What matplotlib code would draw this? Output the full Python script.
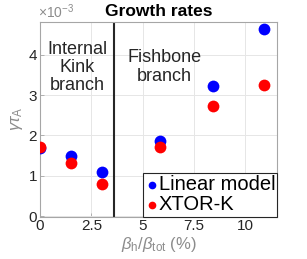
import numpy as np
import matplotlib.pyplot as plt

plt.rcParams['font.family'] = ['Liberation Sans', 'DejaVu Sans']
plt.rcParams['mathtext.fontset'] = 'custom'
plt.rcParams['mathtext.rm'] = 'Liberation Sans'
plt.rcParams['mathtext.it'] = 'Liberation Sans:italic'

# data (gamma*tau_A, in units of 1e-3)
beta_ratio = [0, 1.5, 3.0, 5.82, 8.4, 10.92]
linear_model = [1.70, 1.49, 1.10, 1.85, 3.23, 4.63]
xtor_k = [1.71, 1.31, 0.80, 1.71, 2.73, 3.26]
x_split = 3.58

x_ticks = [0, 2.5, 5, 7.5, 10]
x_ticklabels = ['0', '2.5', '5', '7.5', '10']
y_ticks = [0, 1, 2, 3, 4]

fig = plt.figure(figsize=(3.07, 2.59), dpi=100)
ax = fig.add_axes([40/307, 1 - 216.5/259, 237.3/307, 194.8/259])

ax.scatter(beta_ratio, linear_model, s=72, color='#0000ff', label='Linear model', zorder=3, linewidths=0)
ax.scatter(beta_ratio, xtor_k, s=72, color='#ff0000', label='XTOR-K', zorder=4, linewidths=0)
ax.axvline(x_split, color='#262626', lw=1.5, zorder=2)

ax.set_xlim(0, 11.55)
ax.set_ylim(-0.01, 4.82)
ax.set_xticks(x_ticks)
ax.set_xticklabels(x_ticklabels)
ax.set_yticks(y_ticks)
ax.grid(True, color='#e6e6e6', lw=0.7, zorder=0)
ax.set_axisbelow(True)

for sp in ax.spines.values():
    sp.set_color('#a6a6a6')
    sp.set_linewidth(0.8)
ax.tick_params(direction='in', length=3, width=0.6, colors='#a6a6a6',
               labelcolor='#262626', labelsize=11, pad=2)

ax.text(-0.01, 1.005, r'$\times10^{-3}$', transform=ax.transAxes,
        fontsize=10, color='#8c8c8c', ha='left', va='bottom')
ax.set_title('Growth rates', fontsize=12.5, fontweight='bold', pad=4)

ax.set_ylabel(r'$\gamma\tau_{\mathrm{A}}$', fontsize=12, color='#8c8c8c', labelpad=3)
ax.set_xlabel(r'$\beta_{\mathrm{h}}/\beta_{\mathrm{tot}}$ (%)', fontsize=12, color='#8c8c8c', labelpad=1)

ax.text(1.8, 3.68, 'Internal\nKink\nbranch', fontsize=13, ha='center', va='center',
        linespacing=1.1, color='#262626')
ax.text(6.05, 3.7, 'Fishbone\nbranch', fontsize=13, ha='center', va='center',
        linespacing=1.1, color='#262626')

leg = ax.legend(loc='lower right', fontsize=14.5, handletextpad=0.0, borderpad=0.1,
                labelspacing=0.05, handlelength=0.7, borderaxespad=0.0,
                markerscale=0.65, fancybox=False, framealpha=1)
leg.get_frame().set_edgecolor('#262626')
leg.get_frame().set_linewidth(0.8)

fig.savefig('out.png', dpi=100)
